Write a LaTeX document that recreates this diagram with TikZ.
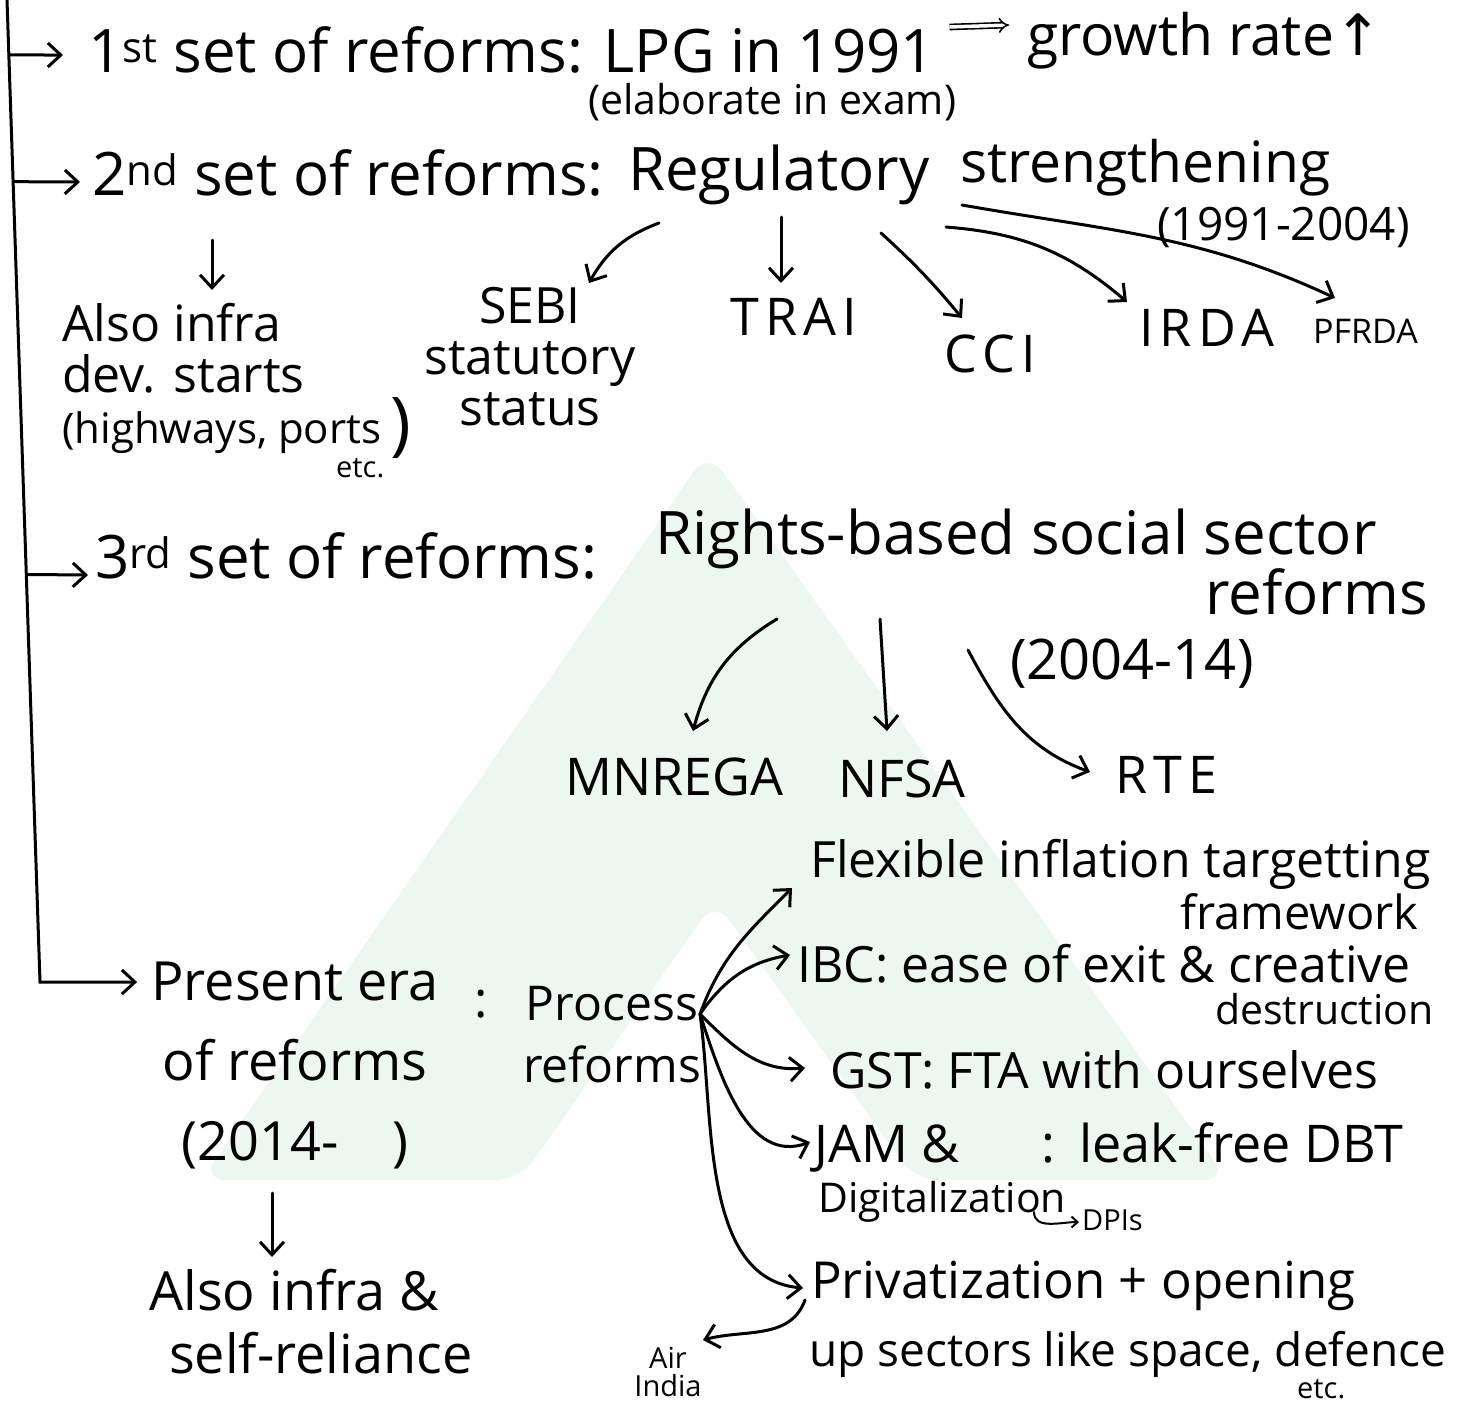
\documentclass[tikz,border=0pt]{standalone}
\usepackage{fontspec}
\setmainfont{Open Sans}
\newfontfamily\symfont{DejaVu Sans}
\usepackage{tikz}
\usetikzlibrary{arrows.meta, calc}
\definecolor{wmGreen}{RGB}{237,247,241}
\tikzstyle{note} = [inner sep=0pt, anchor=base west, align=left]
\tikzstyle{line} = [draw, line width=3pt, line cap=round,
    -{Straight Barb[length=13pt, width=24pt]}]
\tikzstyle{hook} = [draw, line width=2pt, line cap=round,
    -{Straight Barb[length=6pt, width=11pt]}]

\begin{document}
\begin{tikzpicture}[x=1pt, y=1pt,
    rowText/.style={font=\fontsize{60}{64}\selectfont},
    itemText/.style={font=\fontsize{50}{51}\selectfont},
    acroText/.style={font=\fontsize{52}{60}\selectfont\addfontfeature{LetterSpace=12}},
    capText/.style={font=\fontsize{52}{60}\selectfont},
    smallText/.style={font=\fontsize{41}{46}\selectfont},
    tinyText/.style={font=\fontsize{29}{28}\selectfont},
    dblArrow/.style={draw, double, double distance=3.5pt, line width=1.6pt, -{Implies}}
    ]
    \useasboundingbox (0,0) rectangle (1458,-1403);

    % watermark
    \fill[wmGreen, rounded corners=25pt] (201,-1180) -- (708,-451) -- (1228,-1180)
        -- (915,-1180) -- (715,-900) -- (520,-1180) -- cycle;

    % spine
    \coordinate (spineTop) at (7,0);
    \coordinate (spineCorner) at (40,-982);

    % first set
    \node[note, rowText] (first) at (88,-72) {1\textsuperscript{st} set of reforms: LPG in 1991};
    \node[note, font=\fontsize{57}{64}\selectfont] (growth) at (1027,-55) {growth rate{\symfont ↑}};
    \node[note, font=\fontsize{41}{50}\selectfont] (elaborate) at (588,-114) {(elaborate in exam)};

    % second set
    \node[note, rowText] (second) at (92,-195) {2\textsuperscript{nd} set of reforms:};
    \node[note, rowText] (regulatory) at (628,-190) {Regulatory};
    \node[note, font=\fontsize{57}{64}\selectfont] (strength) at (960,-182) {strengthening};
    \node[note, font=\fontsize{46}{50}\selectfont] (period2) at (1157,-240) {(1991-2004)};
    \node[note, itemText] (infra) at (62,-443)
        {Also infra\\dev. starts\\{\fontsize{42}{51}\selectfont(highways, ports}};
    \node[note, tinyText] (etcA) at (336,-477) {etc.};
    \node[note, font=\fontsize{70}{70}\selectfont] (paren) at (390,-447) {)};
    \node[note, itemText, align=center, anchor=base] (sebi) at (530,-425) {SEBI\\statutory\\status};
    \node[note, acroText] (trai) at (730,-335) {TRAI};
    \node[note, acroText] (cci) at (944,-372) {CCI};
    \node[note, acroText] (irda) at (1139,-346) {IRDA};
    \node[note, font=\fontsize{34}{40}\selectfont] (pfrda) at (1313,-343) {PFRDA};

    % third set
    \node[note, rowText] (third) at (95,-578) {3\textsuperscript{rd} set of reforms:};
    \node[note, rowText] (rights) at (655,-554) {Rights-based social sector};
    \node[note, rowText] (reforms3) at (1205,-614) {reforms};
    \node[note, font=\fontsize{56}{60}\selectfont] (period3) at (1010,-679) {(2004-14)};
    \node[note, capText] (mnrega) at (565,-795) {MNREGA};
    \node[note, capText] (nfsa) at (838,-797) {NFSA};
    \node[note, acroText] (rte) at (1115,-793) {RTE};

    % present era
    \node[note, font=\fontsize{54}{80}\selectfont, align=center, anchor=base] (present) at (295,-1160)
        {Present era\\of reforms\\(2014-\quad)};
    \node[note, itemText] (colon) at (474,-1017) {:};
    \node[note, font=\fontsize{48}{62}\selectfont, align=center, anchor=base] (process) at (612,-1082)
        {Process\\reforms};
    \node[note, font=\fontsize{54}{63}\selectfont] (alsoinfra) at (149,-1373)
        {Also infra \&\\\hspace*{20pt}self-reliance};
    \coordinate (hub) at ([shift={(88,68)}]process.base);

    \node[note, itemText] (flexible) at (810,-877) {Flexible inflation targetting};
    \node[note, font=\fontsize{47}{50}\selectfont] (framework) at (1180,-929) {framework};
    \node[note, itemText] (ibc) at (797,-982) {IBC: ease of exit \& creative};
    \node[note, smallText] (destruction) at (1215,-1024) {destruction};
    \node[note, itemText] (gst) at (830,-1088) {GST: FTA with ourselves};
    \node[note, font=\fontsize{52}{54}\selectfont] (jam) at (814,-1162)
        {JAM \&\hspace{82pt}:\hspace{24pt}leak-free DBT};
    \node[note, smallText] (digital) at (818,-1212) {Digitalization};
    \node[note, tinyText] (dpis) at (1082,-1230) {DPIs};
    \node[note, font=\fontsize{51}{54}\selectfont] (privat) at (811,-1298) {Privatization + opening};
    \node[note, font=\fontsize{46}{50}\selectfont] (sectors) at (809,-1366) {up sectors like space, defence};
    \node[note, tinyText] (etcB) at (1297,-1398) {etc.};
    \node[note, tinyText, align=center, anchor=base] (airindia) at (668,-1396) {Air\\India};

    % spine and row arrows
    \draw[line] (spineTop) -- (spineCorner) -- ([shift={(-14,178)}]present.base west);
    \draw[line] ($(spineTop)!0.056!(spineCorner)$) -- ([shift={(-25,17)}]first.base west);
    \draw[line] ($(spineTop)!0.185!(spineCorner)$) -- ([shift={(-12,13)}]second.base west);
    \draw[line] ($(spineTop)!0.585!(spineCorner)$) -- ([shift={(-7,3)}]third.base west);
    \draw[dblArrow] ([shift={(14,45)}]first.base east) -- ([shift={(-18,30)}]growth.base west);

    % second set branches
    \draw[line] ([shift={(120,-45)}]second.base west) -- ([shift={(150,153)}]infra.base west);
    \draw[line] ([shift={(31,-33)}]regulatory.base west) to[bend right=20] ([shift={(59,142)}]sebi.base);
    \draw[line] ([shift={(153,-27)}]regulatory.base west) -- ([shift={(51,52)}]trai.base west);
    \draw[line] ([shift={(253,-43)}]regulatory.base west) to[bend left=4] ([shift={(18,54)}]cci.base west);
    \draw[line] ([shift={(-14,-45)}]strength.base west) to[bend left=18] ([shift={(-12,44)}]irda.base west);
    \draw[line] ([shift={(2,-23)}]strength.base west) to[out=-10, in=155] ([shift={(22,45)}]pfrda.base west);

    % third set branches
    \draw[line] ([shift={(122,-65)}]rights.base west) to[bend right=22] ([shift={(128,64)}]mnrega.base west);
    \draw[line] ([shift={(225,-65)}]rights.base west) -- ([shift={(49,66)}]nfsa.base west);
    \draw[line] ([shift={(313,-96)}]rights.base west) to[out=-62, in=160] ([shift={(-25,21)}]rte.base west);

    % present era branches
    \draw[line] ([shift={(-23,-33)}]present.base) -- ([shift={(123,116)}]alsoinfra.base west);
    \draw[line] (hub) to[out=70, in=225] ([shift={(-18,-11)}]flexible.base west);
    \draw[line] (hub) to[out=55, in=190] ([shift={(-7,27)}]ibc.base west);
    \draw[line] (hub) to[out=-45, in=185] ([shift={(-25,20)}]gst.base west);
    \draw[line] (hub) to[out=-72, in=200] ([shift={(-4,20)}]jam.base west);
    \draw[line] (hub) to[out=-82, in=175, looseness=0.9] ([shift={(-8,10)}]privat.base west);
    \draw[line] ([shift={(-6,-2)}]privat.base west) to[out=-110, in=15] ([shift={(35,56)}]airindia.base);
    \draw[hook] ([shift={(-48,18)}]dpis.base west) to[out=-90, in=180] ([shift={(-3,8)}]dpis.base west);
\end{tikzpicture}
\end{document}
